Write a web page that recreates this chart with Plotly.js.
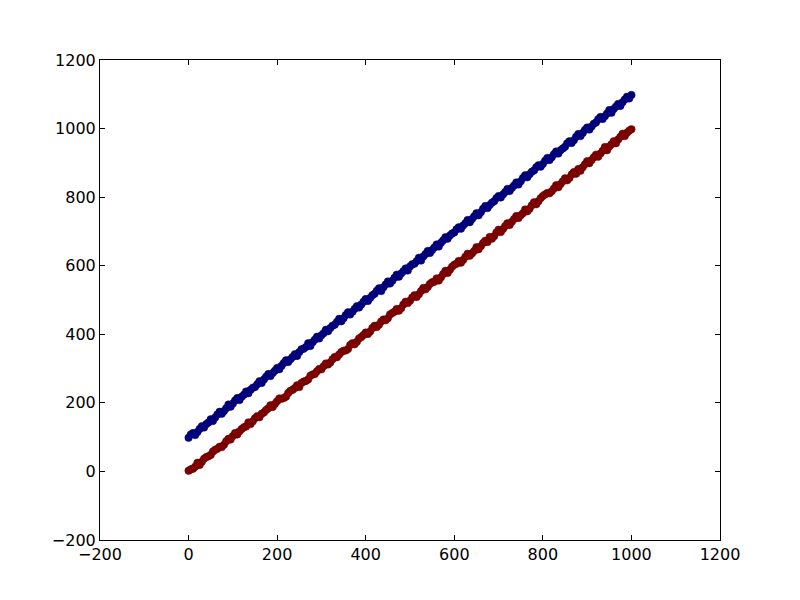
<!DOCTYPE html>
<html>
<head>
<meta charset="utf-8">
<script src="https://cdn.plot.ly/plotly-3.0.1.min.js"></script>
<style>html,body{margin:0;padding:0;background:#fff}</style>
</head>
<body>
<div id="chart" style="width:800px;height:600px"></div>
<script>
const xVals = [0,10,20,30,40,50,60,70,80,90,100,110,120,130,140,150,160,170,180,190,200,210,220,230,240,250,260,270,280,290,300,310,320,330,340,350,360,370,380,390,400,410,420,430,440,450,460,470,480,490,500,510,520,530,540,550,560,570,580,590,600,610,620,630,640,650,660,670,680,690,700,710,720,730,740,750,760,770,780,790,800,810,820,830,840,850,860,870,880,890,900,910,920,930,940,950,960,970,980,990,1000];
const xVals2 = [5,15,25,35,45,55,65,75,85,95,105,115,125,135,145,155,165,175,185,195,205,215,225,235,245,255,265,275,285,295,305,315,325,335,345,355,365,375,385,395,405,415,425,435,445,455,465,475,485,495,505,515,525,535,545,555,565,575,585,595,605,615,625,635,645,655,665,675,685,695,705,715,725,735,745,755,765,775,785,795,805,815,825,835,845,855,865,875,885,895,905,915,925,935,945,955,965,975,985,995];
const redY = [2,8,25,28,42,48,63,72,78,95,103,108,124,131,138,155,158,172,184,188,205,212,218,235,243,246,262,268,283,292,298,315,318,334,341,352,357,374,378,392,405,408,425,428,443,447,462,474,476,495,498,514,517,535,538,552,563,566,585,588,603,614,617,635,636,654,657,673,684,686,705,707,724,728,745,747,764,766,785,788,803,812,817,835,838,855,856,873,882,887,905,908,924,927,946,948,963,968,985,988,998];
const redY2 = [6,14,19,37,44,58,66,71,88,93,112,117,129,143,146,161,168,179,193,197,213,214,229,238,251,258,264,279,284,299,307,312,327,333,348,353,369,371,388,398,401,418,421,437,441,458,466,469,487,491,507,509,526,531,547,553,557,576,579,597,606,609,626,629,643,648,666,669,679,697,698,716,719,736,739,753,759,776,779,797,808,811,825,829,846,849,866,868,877,896,899,916,918,935,937,954,957,976,978,994];
const blueY = [98,112,115,132,138,152,157,174,176,195,198,214,218,233,238,246,263,268,284,287,302,308,324,327,342,348,358,374,377,393,397,413,418,428,445,447,464,466,482,487,503,506,518,534,537,554,556,574,577,592,598,606,623,627,643,646,662,667,683,688,697,712,717,733,736,753,756,774,777,788,803,808,824,827,843,846,864,867,878,893,897,914,916,933,937,947,963,966,984,987,1003,1006,1018,1034,1036,1054,1057,1072,1077,1093,1098];
const blueY2 = [108,106,124,128,143,147,166,168,184,189,207,208,224,228,244,254,258,276,278,294,298,316,319,334,337,356,363,366,384,388,403,409,425,436,438,456,458,474,478,495,497,514,527,526,545,548,565,568,584,586,604,613,615,634,637,653,656,674,679,694,706,708,724,727,744,747,766,768,784,797,799,815,818,834,837,856,858,874,887,889,906,908,925,927,942,957,958,976,978,996,997,1014,1027,1028,1044,1046,1064,1066,1085,1088];
const xTicks = [-200,0,200,400,600,800,1000,1200];
const yTicks = [-200,0,200,400,600,800,1000,1200];

const redMarker = {color: '#800000', size: 7.5, line: {color: '#600000', width: 0.5}};
const blueMarker = {color: '#000080', size: 7.5, line: {color: '#000060', width: 0.5}};
const traces = [
  {x: xVals.concat(xVals2), y: redY.concat(redY2), mode: 'markers', type: 'scatter', marker: redMarker},
  {x: xVals.concat(xVals2), y: blueY.concat(blueY2), mode: 'markers', type: 'scatter', marker: blueMarker}
];
const fmt = v => v < 0 ? '\u2212' + Math.abs(v) : String(v);
const axisCommon = {
  showgrid: false, zeroline: false, showline: true, linecolor: '#000', linewidth: 1,
  mirror: 'ticks', ticks: 'inside', ticklen: 5, tickcolor: '#000', tickwidth: 1,
  tickfont: {family: 'DejaVu Sans', size: 16, color: '#000'},
  tickmode: 'array'
};
const layout = {
  width: 800, height: 600,
  margin: {l: 100, r: 80, t: 60, b: 60},
  paper_bgcolor: '#fff', plot_bgcolor: '#fff',
  showlegend: false,
  xaxis: Object.assign({}, axisCommon, {range: [-200, 1200], tickvals: xTicks, ticktext: xTicks.map(fmt)}),
  yaxis: Object.assign({}, axisCommon, {range: [-200, 1200], tickvals: yTicks, ticktext: yTicks.map(fmt)})
};
Plotly.newPlot('chart', traces, layout, {displayModeBar: false, staticPlot: true});
</script>
</body>
</html>
